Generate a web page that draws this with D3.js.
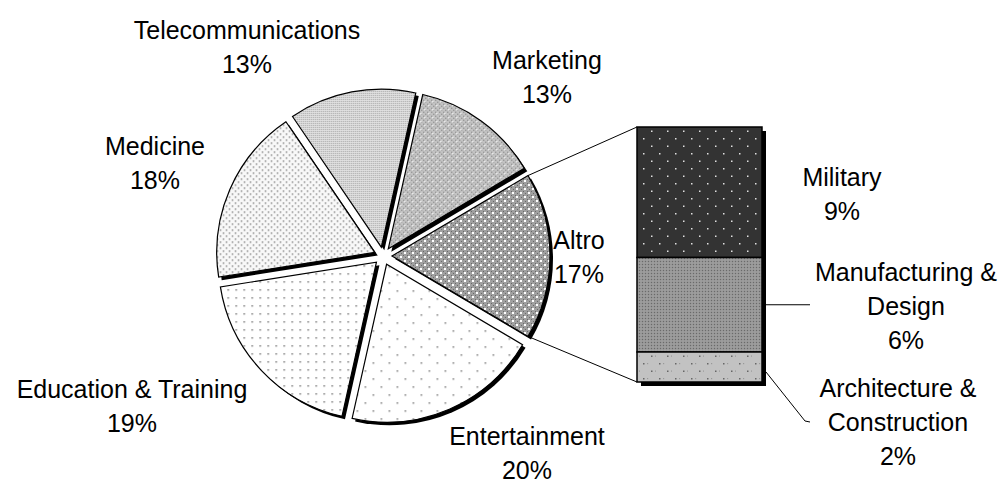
<!DOCTYPE html>
<html>
<head>
<meta charset="utf-8">
<script src="https://cdn.jsdelivr.net/npm/d3@7"></script>
<style>
  body { margin: 0; background: #fff; }
  text { font-family: "Liberation Sans", Arial, sans-serif; font-size: 25px; fill: #000; }
</style>
</head>
<body>
<div id="chart"></div>
<script>
//Data - main pie (Altro is split out into the bar)
const pieLabels = ["Altro", "Entertainment", "Education & Training", "Medicine", "Telecommunications", "Marketing"];
const pieValues = [17, 20, 19, 18, 13, 13];

//Data - the Altro breakdown bar, top to bottom
const barLabels = ["Military", "Manufacturing &\nDesign", "Architecture &\nConstruction"];
const barValues = [8.7, 6.3, 2.0];

//Layout
const width = 1003;
const height = 483;
const cx = 383, cy = 256;
const radius = 158;
const explode = 9;
const shadow = 3;
const barLeft = 637, barRight = 762, barTop = 127, barBottom = 382;
const lineGap = 34;

//label centres (first line), placed like excel did
const pieLabelPos = [[579, 240], [527, 436], [132, 389], [155, 146], [247, 30], [547, 60]];
const barLabelPos = [[842, 177], [906, 272], [898, 388]];

const pieFills = ["url(#pAltro)", "url(#pEnt)", "url(#pEdu)", "url(#pMed)", "url(#pTel)", "url(#pMkt)"];
const barFills = ["url(#pMil)", "url(#pMan)", "url(#pArc)"];

const svg = d3.select("#chart")
    .append("svg")
    .attr("width", width)
    .attr("height", height);

//Patterns
const defs = svg.append("defs");

function pattern(id, w, h, bg, dots) {
    const p = defs.append("pattern")
        .attr("id", id)
        .attr("patternUnits", "userSpaceOnUse")
        .attr("width", w)
        .attr("height", h);
    p.append("rect").attr("width", w).attr("height", h).attr("fill", bg);
    dots.forEach(d => {
        p.append("rect")
            .attr("x", d[0]).attr("y", d[1])
            .attr("width", d[2]).attr("height", d[2])
            .attr("fill", d[3]);
    });
}

pattern("pTel", 2, 2, "#e4e4e4", [[0, 0, 1, "#9a9a9a"]]);
pattern("pMkt", 8, 8, "#c2c2c2", [[1, 1, 1, "#747474"], [3, 3, 1, "#747474"], [5, 1, 1, "#747474"], [7, 3, 1, "#747474"],
    [1, 5, 1, "#747474"], [5, 5, 1, "#747474"], [3, 7, 1, "#747474"], [7, 7, 1, "#747474"], [0, 0, 1.5, "#fff"], [4, 4, 1.5, "#fff"]]);
pattern("pAltro", 8, 8, "#a0a0a0", [[1, 1, 1, "#6a6a6a"], [3, 3, 1, "#6a6a6a"], [5, 1, 1, "#6a6a6a"], [7, 3, 1, "#6a6a6a"],
    [1, 5, 1, "#6a6a6a"], [5, 5, 1, "#6a6a6a"], [3, 7, 1, "#6a6a6a"], [7, 7, 1, "#6a6a6a"], [0, 0, 2, "#fff"], [4, 4, 2, "#fff"]]);
pattern("pEnt", 16, 16, "#fff", [[2, 2, 1.5, "#777"], [10, 10, 1.5, "#777"]]);
pattern("pEdu", 8, 8, "#fff", [[3, 3, 1.5, "#777"]]);
pattern("pMed", 6, 6, "#f8f8f8", [[1, 1, 1.4, "#7a7a7a"], [4, 4, 1.4, "#7a7a7a"]]);
pattern("pMil", 16, 15, "#333", [[3, 3, 1.5, "#e0e0e0"], [11, 10.5, 1.5, "#e0e0e0"]]);
pattern("pMan", 3, 3, "#959595", [[0, 0, 1, "#6a6a6a"], [1.5, 1.5, 1, "#b0b0b0"]]);
pattern("pArc", 16, 15, "#c2c2c2", [[3, 3, 1.5, "#666"], [11, 10.5, 1.5, "#666"], [7, 3, 1.2, "#999"], [15, 10.5, 1.2, "#999"]]);

//Pie - Altro centred on the right (3 o'clock)
const total = d3.sum(pieValues);
const start = Math.PI / 2 - Math.PI * pieValues[0] / total;
const pie = d3.pie()
    .sort(null)
    .startAngle(start)
    .endAngle(start + 2 * Math.PI);
const arcs = pie(pieValues);

const arc = d3.arc()
    .innerRadius(0)
    .outerRadius(radius);

//offset of an exploded slice along its middle angle
function offset(d) {
    const mid = (d.startAngle + d.endAngle) / 2;
    return [explode * Math.sin(mid), -explode * Math.cos(mid)];
}

const pieG = svg.append("g")
    .attr("transform", "translate(" + cx + "," + cy + ")");

//shadows first
pieG.selectAll(".shadow")
    .data(arcs)
    .enter()
    .append("path")
    .attr("class", "shadow")
    .attr("d", arc)
    .attr("fill", "#000")
    .attr("transform", d => {
        const o = offset(d);
        return "translate(" + (o[0] + shadow) + "," + (o[1] + shadow) + ")";
    });

pieG.selectAll(".slice")
    .data(arcs)
    .enter()
    .append("path")
    .attr("class", "slice")
    .attr("d", arc)
    .attr("fill", (d, i) => pieFills[i])
    .attr("stroke", "#000")
    .attr("stroke-width", 1.2)
    .attr("transform", d => {
        const o = offset(d);
        return "translate(" + o[0] + "," + o[1] + ")";
    });

//Bar - breakdown of Altro
const barTotal = d3.sum(barValues);
const yBar = d3.scaleLinear()
    .domain([0, barTotal])
    .range([barTop, barBottom]);
const stacked = [];
let acc = 0;
barValues.forEach((v, i) => {
    stacked.push({ label: barLabels[i], value: v, y0: acc, y1: acc + v });
    acc += v;
});

svg.append("rect")
    .attr("x", barLeft + 4)
    .attr("y", barTop + 4)
    .attr("width", barRight - barLeft)
    .attr("height", barBottom - barTop)
    .attr("fill", "#000");

svg.selectAll(".seg")
    .data(stacked)
    .enter()
    .append("rect")
    .attr("class", "seg")
    .attr("x", barLeft)
    .attr("y", d => yBar(d.y0))
    .attr("width", barRight - barLeft)
    .attr("height", d => yBar(d.y1) - yBar(d.y0))
    .attr("fill", (d, i) => barFills[i])
    .attr("stroke", "#000")
    .attr("stroke-width", 1.5);

//Connector lines from Altro to the bar
const altro = arcs[0];
const ao = offset(altro);
const corner = a => [cx + ao[0] + radius * Math.sin(a), cy + ao[1] - radius * Math.cos(a)];
const c1 = corner(altro.startAngle);
const c2 = corner(altro.endAngle);

svg.append("line")
    .attr("x1", c1[0]).attr("y1", c1[1])
    .attr("x2", barLeft).attr("y2", yBar(0))
    .attr("stroke", "#000").attr("stroke-width", 1);
svg.append("line")
    .attr("x1", c2[0]).attr("y1", c2[1])
    .attr("x2", barLeft).attr("y2", yBar(barTotal))
    .attr("stroke", "#000").attr("stroke-width", 1);

//Leader lines for the two small segments
const manMid = yBar((stacked[1].y0 + stacked[1].y1) / 2);
svg.append("polyline")
    .attr("points", [[barRight + 4, manMid], [barLabelPos[1][0] - 96, manMid]].join(" "))
    .attr("fill", "none").attr("stroke", "#000").attr("stroke-width", 1);

const arcMid = yBar((stacked[2].y0 + stacked[2].y1) / 2) + 5;
svg.append("polyline")
    .attr("points", [[barRight + 4, arcMid], [barLabelPos[2][0] - 93, barLabelPos[2][1] + lineGap - 1], [barLabelPos[2][0] - 88, barLabelPos[2][1] + lineGap]].join(" "))
    .attr("fill", "none").attr("stroke", "#000").attr("stroke-width", 1);

//Labels
function label(x, y, name, pct) {
    const lines = name.split("\n").concat([pct + "%"]);
    const t = svg.append("text")
        .attr("text-anchor", "middle");
    lines.forEach((s, i) => {
        t.append("tspan")
            .attr("x", x)
            .attr("y", y + i * lineGap)
            .attr("dy", "0.36em")
            .text(s);
    });
}

pieLabels.forEach((name, i) => {
    label(pieLabelPos[i][0], pieLabelPos[i][1], name, Math.round(pieValues[i]));
});
barLabels.forEach((name, i) => {
    label(barLabelPos[i][0], barLabelPos[i][1], name, Math.round(barValues[i]));
});
</script>
</body>
</html>
